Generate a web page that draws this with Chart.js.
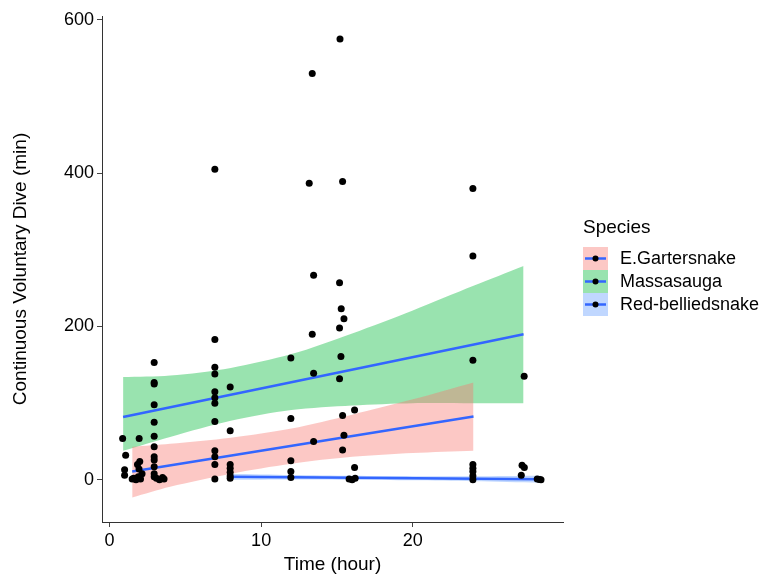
<!DOCTYPE html>
<html>
<head>
<meta charset="utf-8">
<title>Continuous Voluntary Dive</title>
<script src="https://cdn.jsdelivr.net/npm/chart.js@4.4.1/dist/chart.umd.min.js"></script>
<style>
  html, body { margin: 0; padding: 0; background: #fff; }
  #wrap { width: 776px; height: 577px; position: relative; }
</style>
</head>
<body>
<div id="wrap"><canvas id="diveChart" width="776" height="577"></canvas></div>
<script>
// ----------------------------
// Data
// ----------------------------
const species = ['E.Gartersnake', 'Massasauga', 'Red-belliedsnake'];
const bandColors = ['rgba(248,118,109,0.4)', 'rgba(0,186,56,0.4)', 'rgba(97,156,255,0.4)'];
const xTicks = [0, 10, 20];
const yTicks = [0, 200, 400, 600];

// observations
const garterX = [1.96, 1.5, 1.6, 1.75, 1.9, 2.05, 2.15, 1.95, 1.85, 2.0,
                 2.95, 2.95, 2.95, 2.95, 2.95, 2.95, 2.95, 3.1, 3.3, 3.5, 3.6,
                 6.95, 6.95, 6.95, 6.95, 11.96, 11.96, 13.46, 15.37, 15.46, 15.37, 16.16, 23.96, 23.96];
const garterY = [54, 1, 2, 0, 4, 1, 8, 14, 20, 24,
                 57, 43, 30, 26, 17, 8, 4, 2, 0, 3, 1,
                 38, 30, 20, 1, 80, 25, 50, 84, 58, 39, 91, 20, 15];

const massX = [0.87, 1.07, 1.0, 1.0, 2.95, 2.95, 2.95, 2.95, 2.95,
               6.95, 6.95, 6.95, 6.95, 6.95, 6.95, 6.95, 6.95, 7.96, 7.96, 11.96,
               13.17, 13.37, 13.46, 13.37, 13.46,
               15.2, 15.37, 15.17, 15.28, 15.46, 15.17, 15.26, 15.17,
               23.96, 23.96, 23.96, 27.34];
const massY = [54, 32, 13, 6, 153, 127, 125, 98, 75,
               405, 183, 147, 138, 115, 107, 100, 76, 121, 64, 159,
               387, 530, 267, 190, 139,
               575, 389, 257, 223, 210, 198, 161, 132,
               380, 292, 156, 135];

const redX = [7.96, 7.96, 7.96, 7.96, 7.96, 11.96, 11.96, 16.16, 15.8, 16.0, 16.2,
              23.96, 23.96, 23.96, 27.2, 27.35, 27.15, 28.2, 28.35, 28.45];
const redY = [20, 15, 10, 5, 2, 11, 3, 16, 1, 0, 2,
              11, 5, 0, 19, 16, 6, 1, 0.5, 0];

// fitted lines
const garterFitX = [1.5, 24];
const garterFitY = [10.9, 82.6];
const massFitX = [0.9, 27.3];
const massFitY = [82, 190];
const redFitX = [7.96, 28.45];
const redFitY = [4, 0.8];

// confidence bands
const garterBandX = [1.5, 4, 8, 12, 16, 20, 24];
const garterBandHi = [43, 47, 55, 67, 85, 105, 127];
const garterBandLo = [-23, -9, 8, 21, 30, 35, 38];
const massBandX = [0.9, 4, 8, 12, 16, 20, 24, 27.3];
const massBandHi = [134, 136, 146, 164, 191, 221, 253, 279];
const massBandLo = [38, 56, 77, 91, 97, 100, 100, 100];
const redBandX = [7.96, 12, 16, 20, 24, 28.45];
const redBandHi = [8, 6.3, 5.2, 4.7, 4.7, 5.3];
const redBandLo = [0, 0.5, 0.2, -0.5, -1.7, -3.7];

// ----------------------------
// Helpers
// ----------------------------
function pts(xs, ys) {
    return xs.map((x, i) => ({ x: x, y: ys[i] }));
}

const LINE_BLUE = '#3366FF';
const FONT = "'Liberation Sans', Arial, sans-serif";

function bandPair(xs, hi, lo, color) {
    return [
        { type: 'line', data: pts(xs, hi), borderWidth: 0, pointRadius: 0, backgroundColor: color, fill: '+1', order: 3, tension: 0.3 },
        { type: 'line', data: pts(xs, lo), borderWidth: 0, pointRadius: 0, fill: false, order: 3, tension: 0.3 }
    ];
}

function fitLine(xs, ys) {
    return { type: 'line', data: pts(xs, ys), borderColor: LINE_BLUE, borderWidth: 2.5, pointRadius: 0, fill: false, order: 2 };
}

function dots(xs, ys) {
    return { type: 'scatter', data: pts(xs, ys), backgroundColor: '#000', borderWidth: 0, pointRadius: 3.5, order: 1 };
}

const datasets = [
    ...bandPair(garterBandX, garterBandHi, garterBandLo, bandColors[0]),
    ...bandPair(massBandX, massBandHi, massBandLo, bandColors[1]),
    ...bandPair(redBandX, redBandHi, redBandLo, bandColors[2]),
    fitLine(garterFitX, garterFitY),
    fitLine(massFitX, massFitY),
    fitLine(redFitX, redFitY),
    dots(garterX, garterY),
    dots(massX, massY),
    dots(redX, redY)
];

// ----------------------------
// Legend drawn next to the plot
// ----------------------------
const speciesLegend = {
    id: 'speciesLegend',
    afterDraw(chart) {
        const ctx = chart.ctx;
        const left = 583, top = 247, key = 25, row = 23;
        ctx.save();
        ctx.fillStyle = '#000';
        ctx.font = '19px ' + FONT;
        ctx.textBaseline = 'middle';
        ctx.textAlign = 'left';
        ctx.fillText('Species', left, 228);
        species.forEach((name, i) => {
            const y = top + i * row;
            ctx.fillStyle = bandColors[i];
            ctx.fillRect(left, y, key, row);
            ctx.strokeStyle = LINE_BLUE;
            ctx.lineWidth = 2.5;
            ctx.beginPath();
            ctx.moveTo(left + 2, y + row / 2);
            ctx.lineTo(left + key - 2, y + row / 2);
            ctx.stroke();
            ctx.fillStyle = '#000';
            ctx.beginPath();
            ctx.arc(left + key / 2, y + row / 2, 3, 0, Math.PI * 2);
            ctx.fill();
            ctx.font = '18px ' + FONT;
            ctx.fillText(name, left + 37, y + row / 2 + 1);
        });
        ctx.restore();
    }
};

// ----------------------------
// Chart
// ----------------------------
const ctx = document.getElementById('diveChart').getContext('2d');
new Chart(ctx, {
    type: 'scatter',
    data: { datasets: datasets },
    options: {
        responsive: false,
        animation: false,
        layout: { padding: { left: 0, right: 213, top: 16, bottom: 0 } },
        plugins: { legend: { display: false }, tooltip: { enabled: false } },
        scales: {
            x: {
                type: 'linear',
                min: -0.49,
                max: 29.9,
                afterFit: s => { s.height = 55; },
                afterBuildTicks: s => { s.ticks = xTicks.map(v => ({ value: v })); },
                grid: { drawOnChartArea: false, drawTicks: true, tickLength: 5, tickColor: '#444' },
                border: { display: true, color: '#333', width: 1 },
                ticks: { color: '#000', padding: 3, font: { family: FONT, size: 18 } },
                title: { display: true, text: 'Time (hour)', color: '#000', padding: { top: 0, bottom: 1 }, font: { family: FONT, size: 19 } }
            },
            y: {
                type: 'linear',
                min: -55,
                max: 605,
                afterFit: s => { s.width = 102; },
                afterBuildTicks: s => { s.ticks = yTicks.map(v => ({ value: v })); },
                grid: { drawOnChartArea: false, drawTicks: true, tickLength: 5, tickColor: '#444' },
                border: { display: true, color: '#333', width: 1 },
                ticks: { color: '#000', padding: 3, font: { family: FONT, size: 18 } },
                title: { display: true, text: 'Continuous Voluntary Dive (min)', color: '#000', padding: { top: 9, bottom: 0 }, font: { family: FONT, size: 19 } }
            }
        }
    },
    plugins: [speciesLegend]
});
</script>
</body>
</html>
